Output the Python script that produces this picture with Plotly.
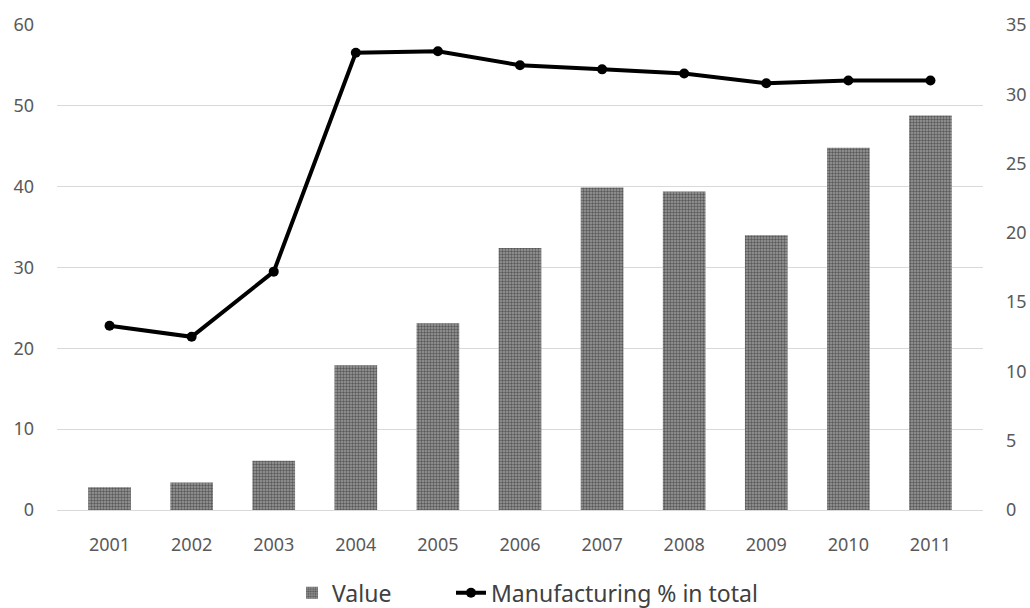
import plotly.graph_objects as go

years = ["2001", "2002", "2003", "2004", "2005", "2006", "2007", "2008", "2009", "2010", "2011"]
value = [2.8, 3.4, 6.1, 17.9, 23.1, 32.4, 39.9, 39.4, 34.0, 44.8, 48.8]
manuf_pct = [13.3, 12.5, 17.2, 33.0, 33.1, 32.1, 31.8, 31.5, 30.8, 31.0, 31.0]

fig = go.Figure()
fig.add_trace(go.Bar(
    x=years, y=value, name="Value", legend="legend",
    marker=dict(color="#8a8a8a", line=dict(width=0),
                pattern=dict(shape=".", fgcolor="#1a1a1a", bgcolor="#9a9a9a",
                             size=3, solidity=0.5)),
))
fig.add_trace(go.Scatter(
    x=years, y=manuf_pct, name="Manufacturing % in total", yaxis="y2",
    legend="legend2",
    mode="lines+markers",
    line=dict(color="#000000", width=4),
    marker=dict(color="#000000", size=10),
))

legend_common = dict(orientation="h", xanchor="left", xref="container",
                     yanchor="middle", yref="container", y=0.025,
                     font=dict(size=23, color="#404040"),
                     bgcolor="rgba(0,0,0,0)")

fig.update_layout(
    width=1030, height=608,
    margin=dict(l=57, r=47, t=25, b=98, autoexpand=False),
    plot_bgcolor="#ffffff", paper_bgcolor="#ffffff",
    font=dict(family="Noto Sans, DejaVu Sans, sans-serif", size=18, color="#595959"),
    bargap=0.48,
    xaxis=dict(showgrid=False, showline=True, linecolor="#d9d9d9", linewidth=1,
               ticks="", automargin=False, ticklabelstandoff=18,
               tickfont=dict(size=18, color="#595959")),
    yaxis=dict(range=[0, 60], dtick=10, showgrid=True, gridcolor="#d9d9d9",
               gridwidth=1, zeroline=False, ticks="", ticklabelstandoff=22,
               automargin=False, tickfont=dict(size=18, color="#595959")),
    yaxis2=dict(range=[0, 35], dtick=5, overlaying="y", side="right",
                showgrid=False, zeroline=False, ticks="", ticklabelstandoff=22,
                automargin=False, tickfont=dict(size=18, color="#595959")),
    legend=dict(x=(337 - 45) / 1030, **legend_common),
    legend2=dict(x=(496 - 45) / 1030, **legend_common),
    showlegend=True,
)

fig.write_html("out.html")
